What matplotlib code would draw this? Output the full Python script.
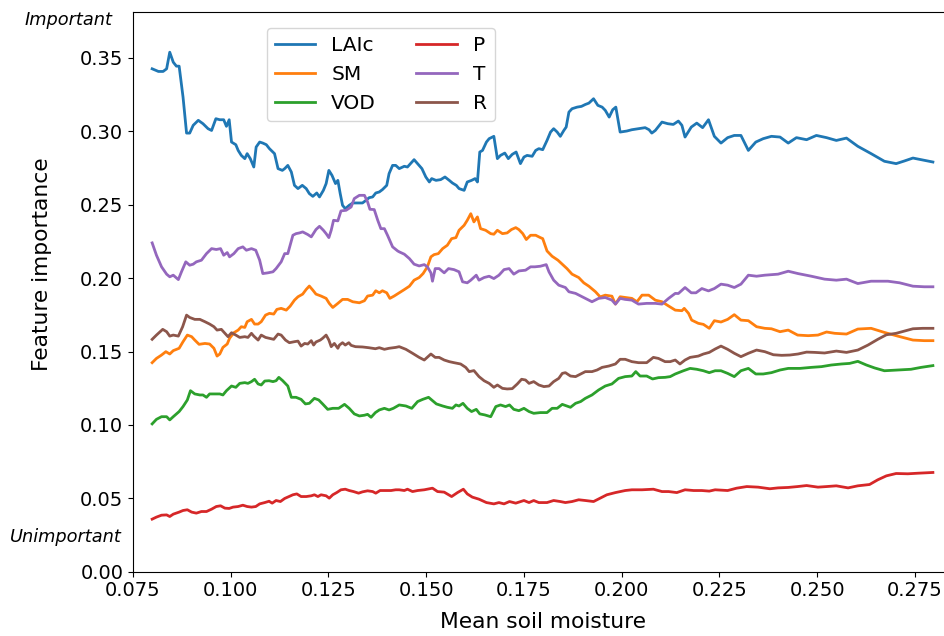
import matplotlib
matplotlib.use('Agg')
import matplotlib.pyplot as plt
from matplotlib.ticker import FormatStrFormatter

# Feature importance of each driver along mean soil moisture
laic_x = [0.0799, 0.0815, 0.0827, 0.0836, 0.0844, 0.0853, 0.0861, 0.0868, 0.0878, 0.0887, 0.0895, 0.0904,
          0.0917, 0.0929, 0.0942, 0.0951, 0.0962, 0.0972, 0.0982, 0.0989, 0.0996, 0.1002, 0.1013, 0.1019,
          0.1027, 0.1036, 0.1042, 0.1050, 0.1059, 0.1065, 0.1074, 0.1082, 0.1091, 0.1099, 0.1112, 0.1121,
          0.1132, 0.1138, 0.1146, 0.1155, 0.1163, 0.1172, 0.1183, 0.1193, 0.1201, 0.1210, 0.1220, 0.1227,
          0.1237, 0.1244, 0.1251, 0.1259, 0.1268, 0.1274, 0.1280, 0.1286, 0.1293, 0.1303, 0.1312, 0.1325,
          0.1337, 0.1346, 0.1354, 0.1363, 0.1371, 0.1380, 0.1388, 0.1399, 0.1405, 0.1414, 0.1422,
          0.1431, 0.1444, 0.1452, 0.1461, 0.1469, 0.1478, 0.1489, 0.1499, 0.1508, 0.1514, 0.1525, 0.1537,
          0.1548, 0.1559, 0.1567, 0.1577, 0.1584, 0.1597, 0.1605, 0.1616, 0.1625, 0.1631, 0.1637, 0.1644,
          0.1654, 0.1661, 0.1673, 0.1682, 0.1690, 0.1701, 0.1710, 0.1720, 0.1730, 0.1741, 0.1750, 0.1758,
          0.1771, 0.1780, 0.1788, 0.1798, 0.1809, 0.1818, 0.1826, 0.1835, 0.1843, 0.1852, 0.1858, 0.1865,
          0.1873, 0.1886, 0.1897, 0.1907, 0.1916, 0.1928, 0.1939, 0.1950, 0.1958, 0.1968, 0.1977, 0.1985,
          0.1996, 0.2013, 0.2026, 0.2043, 0.2060, 0.2070, 0.2077, 0.2086, 0.2103, 0.2118, 0.2132,
          0.2145, 0.2154, 0.2162, 0.2178, 0.2192, 0.2207, 0.2222, 0.2237, 0.2254, 0.2271, 0.2288, 0.2305,
          0.2324, 0.2343, 0.2362, 0.2383, 0.2405, 0.2426, 0.2447, 0.2473, 0.2498, 0.2524, 0.2549, 0.2575,
          0.2604, 0.2638, 0.2672, 0.2702, 0.2723, 0.2745, 0.2766, 0.2796]
laic_y = [0.3426, 0.3408, 0.3408, 0.3426, 0.3539, 0.3471, 0.3444, 0.3444, 0.3233, 0.2988, 0.2988, 0.3041,
          0.3075, 0.3052, 0.3018, 0.3006, 0.3086, 0.3079, 0.3079, 0.3034, 0.3079, 0.2927, 0.2909, 0.2870,
          0.2836, 0.2814, 0.2848, 0.2814, 0.2757, 0.2893, 0.2927, 0.2920, 0.2909, 0.2882, 0.2848, 0.2746,
          0.2734, 0.2746, 0.2768, 0.2723, 0.2632, 0.2610, 0.2632, 0.2610, 0.2576, 0.2557, 0.2580, 0.2553,
          0.2598, 0.2644, 0.2734, 0.2700, 0.2644, 0.2666, 0.2576, 0.2496, 0.2473, 0.2496, 0.2512, 0.2512,
          0.2512, 0.2530, 0.2548, 0.2553, 0.2580, 0.2587, 0.2603, 0.2632, 0.2712, 0.2768, 0.2768,
          0.2746, 0.2762, 0.2757, 0.2784, 0.2807, 0.2780, 0.2746, 0.2689, 0.2655, 0.2678, 0.2666, 0.2671,
          0.2689, 0.2666, 0.2648, 0.2632, 0.2610, 0.2598, 0.2655, 0.2666, 0.2678, 0.2655, 0.2859, 0.2870,
          0.2927, 0.2950, 0.2966, 0.2814, 0.2836, 0.2852, 0.2814, 0.2843, 0.2859, 0.2780, 0.2825, 0.2836,
          0.2830, 0.2870, 0.2882, 0.2875, 0.2938, 0.2995, 0.3018, 0.2995, 0.2966, 0.3006, 0.3029, 0.3131,
          0.3154, 0.3165, 0.3170, 0.3183, 0.3192, 0.3222, 0.3177, 0.3165, 0.3143, 0.3097, 0.3147, 0.3165,
          0.2995, 0.3002, 0.3011, 0.3018, 0.3025, 0.3011, 0.2988, 0.3006, 0.3063, 0.3052, 0.3047,
          0.3070, 0.3041, 0.2961, 0.3029, 0.3056, 0.3025, 0.3079, 0.2966, 0.2920, 0.2957, 0.2972, 0.2972,
          0.2870, 0.2927, 0.2950, 0.2966, 0.2961, 0.2920, 0.2957, 0.2943, 0.2972, 0.2957, 0.2938, 0.2954,
          0.2898, 0.2848, 0.2796, 0.2780, 0.2798, 0.2818, 0.2807, 0.2791]

sm_x = [0.0799, 0.0810, 0.0823, 0.0834, 0.0844, 0.0853, 0.0868, 0.0878, 0.0889, 0.0900, 0.0908, 0.0919,
        0.0934, 0.0946, 0.0957, 0.0965, 0.0972, 0.0980, 0.0991, 0.0997, 0.1008, 0.1019, 0.1027, 0.1036,
        0.1042, 0.1053, 0.1061, 0.1070, 0.1078, 0.1089, 0.1099, 0.1110, 0.1118, 0.1129, 0.1142, 0.1152,
        0.1163, 0.1172, 0.1184, 0.1193, 0.1201, 0.1210, 0.1218, 0.1231, 0.1244, 0.1252, 0.1261, 0.1274,
        0.1286, 0.1299, 0.1312, 0.1329, 0.1342, 0.1350, 0.1363, 0.1371, 0.1380, 0.1388, 0.1399, 0.1407,
        0.1418,
        0.1431, 0.1444, 0.1457, 0.1469, 0.1482, 0.1492, 0.1503, 0.1512, 0.1520, 0.1531, 0.1542, 0.1554,
        0.1565, 0.1576, 0.1584, 0.1597, 0.1605, 0.1614, 0.1622, 0.1631, 0.1639, 0.1652, 0.1665, 0.1673,
        0.1682, 0.1695, 0.1707, 0.1718, 0.1729, 0.1737, 0.1747, 0.1756, 0.1767, 0.1780, 0.1792, 0.1798,
        0.1809, 0.1822, 0.1837, 0.1848, 0.1860, 0.1873, 0.1890, 0.1903, 0.1916, 0.1933, 0.1945,
        0.1958, 0.1975, 0.1984, 0.1996, 0.2009, 0.2026, 0.2039, 0.2052, 0.2069, 0.2086, 0.2103, 0.2120,
        0.2137, 0.2154, 0.2160, 0.2171, 0.2179, 0.2196,
        0.2209, 0.2224, 0.2237, 0.2254, 0.2271, 0.2288, 0.2305, 0.2324, 0.2345, 0.2366, 0.2383, 0.2405,
        0.2426, 0.2450, 0.2477, 0.2502, 0.2524, 0.2545, 0.2575, 0.2604, 0.2638, 0.2672, 0.2706, 0.2745,
        0.2774, 0.2796]
sm_y = [0.1424, 0.1453, 0.1476, 0.1499, 0.1483, 0.1506, 0.1522, 0.1567, 0.1612, 0.1601, 0.1578, 0.1549,
        0.1555, 0.1551, 0.1522, 0.1469, 0.1483, 0.1528, 0.1551, 0.1590, 0.1628, 0.1646, 0.1669, 0.1664,
        0.1703, 0.1719, 0.1687, 0.1687, 0.1703, 0.1748, 0.1760, 0.1755, 0.1787, 0.1794, 0.1782, 0.1809,
        0.1850, 0.1873, 0.1891, 0.1923, 0.1946, 0.1918, 0.1891, 0.1878, 0.1862, 0.1828, 0.1800, 0.1828,
        0.1855, 0.1855, 0.1839, 0.1832, 0.1846, 0.1878, 0.1884, 0.1914, 0.1900, 0.1914, 0.1900, 0.1862,
        0.1878,
        0.1900, 0.1922, 0.1945, 0.1986, 0.2004, 0.2031, 0.2077, 0.2145, 0.2160, 0.2167, 0.2201, 0.2224,
        0.2269, 0.2276, 0.2326, 0.2360, 0.2394, 0.2439, 0.2383, 0.2417, 0.2337, 0.2326, 0.2303, 0.2299,
        0.2326, 0.2303, 0.2308, 0.2331, 0.2344, 0.2331, 0.2303, 0.2263, 0.2292, 0.2292, 0.2276, 0.2269,
        0.2185, 0.2149, 0.2122, 0.2095, 0.2065, 0.2027, 0.2004, 0.1968, 0.1945, 0.1907, 0.1872,
        0.1884, 0.1877, 0.1823, 0.1873, 0.1868, 0.1862, 0.1839, 0.1884, 0.1884, 0.1850, 0.1839, 0.1810,
        0.1782, 0.1778, 0.1794, 0.1760, 0.1714, 0.1692,
        0.1685, 0.1658, 0.1710, 0.1701, 0.1719, 0.1751, 0.1714, 0.1710, 0.1669, 0.1658, 0.1655, 0.1635,
        0.1646, 0.1612, 0.1608, 0.1612, 0.1633, 0.1624, 0.1619, 0.1653, 0.1658, 0.1630, 0.1605, 0.1578,
        0.1574, 0.1574]

vod_x = [0.0799, 0.0810, 0.0823, 0.0836, 0.0844, 0.0853, 0.0868, 0.0878, 0.0889, 0.0897, 0.0908, 0.0921,
         0.0929, 0.0938, 0.0946, 0.0959, 0.0972, 0.0980, 0.0989, 0.1002, 0.1013, 0.1023, 0.1036, 0.1044,
         0.1053, 0.1061, 0.1070, 0.1078, 0.1087, 0.1098, 0.1108, 0.1116, 0.1123, 0.1133, 0.1146, 0.1155,
         0.1167, 0.1180, 0.1191, 0.1201, 0.1214, 0.1225, 0.1235, 0.1248, 0.1261, 0.1276, 0.1291, 0.1303,
         0.1316, 0.1329, 0.1342, 0.1350, 0.1359, 0.1370, 0.1380, 0.1393, 0.1405, 0.1416,
         0.1431, 0.1448, 0.1463, 0.1478, 0.1491, 0.1506, 0.1516, 0.1526, 0.1542, 0.1554, 0.1567, 0.1576,
         0.1584, 0.1594, 0.1605, 0.1616, 0.1628, 0.1637, 0.1650, 0.1665, 0.1678, 0.1690, 0.1703, 0.1713,
         0.1724, 0.1737, 0.1750, 0.1763, 0.1775, 0.1792, 0.1809, 0.1822, 0.1835, 0.1848, 0.1860, 0.1869,
         0.1882, 0.1895, 0.1907, 0.1924, 0.1941, 0.1958, 0.1975, 0.1992, 0.2009, 0.2026, 0.2036, 0.2047,
         0.2064, 0.2079, 0.2094, 0.2111, 0.2124, 0.2137,
         0.2158, 0.2175, 0.2192, 0.2209, 0.2224, 0.2239, 0.2254, 0.2271, 0.2288, 0.2305, 0.2324, 0.2343,
         0.2362, 0.2383, 0.2405, 0.2426, 0.2456, 0.2485, 0.2511, 0.2536, 0.2562, 0.2583, 0.2604, 0.2626,
         0.2647, 0.2672, 0.2706, 0.2740, 0.2766, 0.2796]
vod_y = [0.1007, 0.1038, 0.1056, 0.1056, 0.1034, 0.1056, 0.1091, 0.1125, 0.1170, 0.1233, 0.1211, 0.1204,
         0.1204, 0.1188, 0.1211, 0.1211, 0.1211, 0.1204, 0.1233, 0.1265, 0.1256, 0.1283, 0.1288, 0.1283,
         0.1295, 0.1311, 0.1279, 0.1272, 0.1299, 0.1301, 0.1295, 0.1301, 0.1324, 0.1301, 0.1265, 0.1188,
         0.1188, 0.1174, 0.1143, 0.1147, 0.1181, 0.1170, 0.1143, 0.1106, 0.1113, 0.1113, 0.1140, 0.1113,
         0.1075, 0.1061, 0.1066, 0.1072, 0.1052, 0.1084, 0.1102, 0.1113, 0.1102, 0.1113,
         0.1136, 0.1129, 0.1113, 0.1159, 0.1174, 0.1188, 0.1165, 0.1143, 0.1129, 0.1120, 0.1113, 0.1136,
         0.1129, 0.1147, 0.1113, 0.1091, 0.1106, 0.1075, 0.1068, 0.1056, 0.1125, 0.1136, 0.1125, 0.1136,
         0.1106, 0.1097, 0.1113, 0.1091, 0.1079, 0.1084, 0.1084, 0.1113, 0.1113, 0.1140, 0.1129, 0.1120,
         0.1147, 0.1159, 0.1181, 0.1204, 0.1238, 0.1265, 0.1279, 0.1317, 0.1329, 0.1333, 0.1363, 0.1333,
         0.1333, 0.1313, 0.1322, 0.1324, 0.1329, 0.1347,
         0.1369, 0.1385, 0.1379, 0.1369, 0.1356, 0.1369, 0.1369, 0.1351, 0.1329, 0.1369, 0.1385, 0.1347,
         0.1347, 0.1356, 0.1374, 0.1385, 0.1385, 0.1392, 0.1397, 0.1408, 0.1415, 0.1419, 0.1433, 0.1408,
         0.1388, 0.1369, 0.1374, 0.1379, 0.1392, 0.1404]

p_x = [0.0799, 0.0810, 0.0823, 0.0836, 0.0844, 0.0853, 0.0868, 0.0878, 0.0889, 0.0900, 0.0912, 0.0925,
       0.0938, 0.0951, 0.0963, 0.0974, 0.0985, 0.0996, 0.1006, 0.1019, 0.1031, 0.1042, 0.1053, 0.1064,
       0.1074, 0.1087, 0.1098, 0.1106, 0.1116, 0.1127, 0.1138, 0.1149, 0.1159, 0.1169, 0.1180, 0.1193,
       0.1206, 0.1214, 0.1223, 0.1231, 0.1244, 0.1252, 0.1261, 0.1271, 0.1282, 0.1293, 0.1303, 0.1314,
       0.1327, 0.1337, 0.1350, 0.1363, 0.1371, 0.1382, 0.1393, 0.1410, 0.1422,
       0.1431, 0.1444, 0.1452, 0.1465, 0.1478, 0.1495, 0.1516, 0.1529, 0.1546, 0.1565, 0.1580, 0.1595,
       0.1605, 0.1618, 0.1635, 0.1654, 0.1673, 0.1686, 0.1699, 0.1713, 0.1729, 0.1750, 0.1763, 0.1775,
       0.1788, 0.1809, 0.1826, 0.1843, 0.1856, 0.1873, 0.1890, 0.1907, 0.1928, 0.1945, 0.1962, 0.1984,
       0.2009, 0.2026, 0.2052, 0.2081, 0.2103, 0.2120, 0.2141,
       0.2162, 0.2184, 0.2205, 0.2224, 0.2239, 0.2271, 0.2294, 0.2320, 0.2349, 0.2379, 0.2400, 0.2426,
       0.2450, 0.2473, 0.2502, 0.2524, 0.2549, 0.2579, 0.2604, 0.2634, 0.2655, 0.2677, 0.2702, 0.2732,
       0.2758, 0.2796]
p_y = [0.0358, 0.0372, 0.0385, 0.0387, 0.0376, 0.0392, 0.0406, 0.0417, 0.0422, 0.0406, 0.0399, 0.0410,
       0.0410, 0.0426, 0.0444, 0.0449, 0.0433, 0.0431, 0.0440, 0.0444, 0.0453, 0.0444, 0.0440, 0.0444,
       0.0462, 0.0471, 0.0480, 0.0467, 0.0485, 0.0478, 0.0499, 0.0512, 0.0524, 0.0530, 0.0512, 0.0512,
       0.0517, 0.0524, 0.0512, 0.0524, 0.0517, 0.0501, 0.0524, 0.0539, 0.0558, 0.0562, 0.0553, 0.0546,
       0.0535, 0.0544, 0.0551, 0.0546, 0.0535, 0.0553, 0.0553, 0.0553, 0.0558,
       0.0558, 0.0553, 0.0562, 0.0546, 0.0553, 0.0558, 0.0569, 0.0546, 0.0542, 0.0512, 0.0539, 0.0562,
       0.0530, 0.0508, 0.0494, 0.0471, 0.0462, 0.0471, 0.0462, 0.0478, 0.0467, 0.0485, 0.0471, 0.0485,
       0.0471, 0.0471, 0.0485, 0.0478, 0.0471, 0.0478, 0.0490, 0.0485, 0.0478, 0.0501, 0.0524, 0.0539,
       0.0553, 0.0558, 0.0558, 0.0562, 0.0546, 0.0546, 0.0539,
       0.0558, 0.0553, 0.0553, 0.0549, 0.0558, 0.0553, 0.0569, 0.0580, 0.0576, 0.0565, 0.0571, 0.0574,
       0.0580, 0.0587, 0.0576, 0.0580, 0.0585, 0.0571, 0.0585, 0.0594, 0.0626, 0.0653, 0.0669, 0.0667,
       0.0671, 0.0676]

t_x = [0.0799, 0.0810, 0.0823, 0.0836, 0.0844, 0.0853, 0.0866, 0.0874, 0.0885, 0.0895, 0.0904, 0.0912,
       0.0925, 0.0938, 0.0951, 0.0963, 0.0974, 0.0982, 0.0991, 0.0997, 0.1008, 0.1019, 0.1031, 0.1040,
       0.1053, 0.1064, 0.1074, 0.1082, 0.1095, 0.1108, 0.1116, 0.1129, 0.1138, 0.1146, 0.1159, 0.1167,
       0.1176, 0.1184, 0.1197, 0.1206, 0.1218, 0.1227, 0.1237, 0.1244, 0.1251, 0.1257, 0.1263, 0.1274,
       0.1282, 0.1295, 0.1308, 0.1316, 0.1329, 0.1342, 0.1350, 0.1356, 0.1367, 0.1376, 0.1384, 0.1393,
       0.1401, 0.1414, 0.1427,
       0.1431, 0.1444, 0.1457, 0.1469, 0.1482, 0.1495, 0.1503, 0.1512, 0.1516, 0.1523, 0.1533, 0.1546,
       0.1557, 0.1571, 0.1584, 0.1593, 0.1605, 0.1614, 0.1628, 0.1635, 0.1648, 0.1661, 0.1673, 0.1686,
       0.1699, 0.1712, 0.1724, 0.1737, 0.1754, 0.1767, 0.1778, 0.1792, 0.1807, 0.1814, 0.1826, 0.1839,
       0.1856,
       0.1865, 0.1882, 0.1907, 0.1924, 0.1941, 0.1958, 0.1975, 0.1984, 0.1996, 0.2009, 0.2026, 0.2043,
       0.2064, 0.2086, 0.2103, 0.2120, 0.2137,
       0.2145, 0.2162, 0.2178, 0.2190, 0.2205, 0.2222, 0.2237, 0.2254, 0.2271, 0.2288, 0.2305, 0.2324,
       0.2345, 0.2366, 0.2400, 0.2426, 0.2451, 0.2485, 0.2519, 0.2549, 0.2575, 0.2604, 0.2638, 0.2681,
       0.2711, 0.2745, 0.2774, 0.2796]
t_y = [0.2240, 0.2156, 0.2077, 0.2027, 0.2009, 0.2020, 0.1990, 0.2043, 0.2111, 0.2088, 0.2095, 0.2111,
       0.2122, 0.2167, 0.2201, 0.2195, 0.2201, 0.2156, 0.2174, 0.2145, 0.2167, 0.2201, 0.2213, 0.2190,
       0.2201, 0.2190, 0.2122, 0.2031, 0.2036, 0.2043, 0.2065, 0.2111, 0.2167, 0.2167, 0.2292, 0.2303,
       0.2308, 0.2315, 0.2297, 0.2281, 0.2331, 0.2353, 0.2326, 0.2303, 0.2276, 0.2326, 0.2394, 0.2390,
       0.2458, 0.2462, 0.2485, 0.2542, 0.2564, 0.2564, 0.2519, 0.2469, 0.2467, 0.2394, 0.2337, 0.2337,
       0.2292, 0.2213, 0.2185,
       0.2179, 0.2163, 0.2133, 0.2095, 0.2083, 0.2092, 0.2077, 0.2036, 0.1979, 0.2065, 0.2065, 0.2036,
       0.2065, 0.2058, 0.2043, 0.1975, 0.1968, 0.1986, 0.2020, 0.1986, 0.2004, 0.2013, 0.1997, 0.2020,
       0.2058, 0.2065, 0.2027, 0.2049, 0.2054, 0.2077, 0.2077, 0.2081, 0.2092, 0.2043, 0.1986, 0.1952,
       0.1936,
       0.1907, 0.1896, 0.1862, 0.1839, 0.1862, 0.1868, 0.1850, 0.1823, 0.1862, 0.1855, 0.1850, 0.1823,
       0.1828, 0.1828, 0.1823, 0.1862, 0.1896,
       0.1895, 0.1936, 0.1900, 0.1900, 0.1929, 0.1913, 0.1929, 0.1959, 0.1952, 0.1936, 0.1959, 0.2020,
       0.2013, 0.2020, 0.2027, 0.2047, 0.2031, 0.2013, 0.1993, 0.1986, 0.1993, 0.1963, 0.1979, 0.1979,
       0.1968, 0.1945, 0.1941, 0.1941]

r_x = [0.0799, 0.0810, 0.0826, 0.0836, 0.0844, 0.0853, 0.0866, 0.0877, 0.0887, 0.0895, 0.0908, 0.0921,
       0.0934, 0.0946, 0.0957, 0.0965, 0.0976, 0.0985, 0.0993, 0.1002, 0.1013, 0.1023, 0.1036, 0.1044,
       0.1053, 0.1059, 0.1070, 0.1078, 0.1089, 0.1099, 0.1110, 0.1121, 0.1129, 0.1140, 0.1150, 0.1163,
       0.1172, 0.1180, 0.1189, 0.1197, 0.1206, 0.1212, 0.1218, 0.1229, 0.1235, 0.1244, 0.1251, 0.1257,
       0.1265, 0.1274, 0.1278, 0.1286, 0.1293, 0.1302, 0.1308, 0.1319, 0.1337, 0.1353, 0.1370, 0.1380,
       0.1393, 0.1405, 0.1422,
       0.1431, 0.1448, 0.1465, 0.1482, 0.1495, 0.1506, 0.1512, 0.1523, 0.1533, 0.1546, 0.1559, 0.1571,
       0.1588, 0.1601, 0.1610, 0.1622, 0.1635, 0.1648, 0.1661, 0.1673, 0.1682, 0.1695, 0.1707, 0.1720,
       0.1733, 0.1744, 0.1754, 0.1763, 0.1775, 0.1788, 0.1801, 0.1814, 0.1826, 0.1839, 0.1848, 0.1856,
       0.1869, 0.1882, 0.1895, 0.1907, 0.1924, 0.1937, 0.1950, 0.1967, 0.1984, 0.1996, 0.2009, 0.2026,
       0.2043, 0.2064, 0.2081, 0.2094, 0.2111, 0.2124, 0.2137, 0.2149, 0.2162, 0.2175, 0.2196,
       0.2209, 0.2224, 0.2239, 0.2254, 0.2271, 0.2288, 0.2305, 0.2324, 0.2345, 0.2366, 0.2388, 0.2409,
       0.2430, 0.2451, 0.2473, 0.2494, 0.2519, 0.2549, 0.2575, 0.2604, 0.2630, 0.2655, 0.2677, 0.2702,
       0.2723, 0.2745, 0.2770, 0.2796]
r_y = [0.1583, 0.1612, 0.1651, 0.1635, 0.1605, 0.1612, 0.1605, 0.1669, 0.1748, 0.1732, 0.1719, 0.1719,
       0.1703, 0.1687, 0.1669, 0.1646, 0.1651, 0.1624, 0.1601, 0.1628, 0.1612, 0.1596, 0.1601, 0.1596,
       0.1624, 0.1605, 0.1578, 0.1612, 0.1596, 0.1590, 0.1583, 0.1619, 0.1612, 0.1578, 0.1560, 0.1567,
       0.1571, 0.1537, 0.1555, 0.1551, 0.1574, 0.1544, 0.1565, 0.1578, 0.1590, 0.1612, 0.1578, 0.1533,
       0.1555, 0.1522, 0.1544, 0.1560, 0.1544, 0.1560, 0.1542, 0.1533, 0.1531, 0.1526, 0.1519, 0.1526,
       0.1515, 0.1522, 0.1528,
       0.1533, 0.1515, 0.1488, 0.1460, 0.1442, 0.1469, 0.1483, 0.1460, 0.1460, 0.1442, 0.1431, 0.1424,
       0.1415, 0.1392, 0.1363, 0.1370, 0.1329, 0.1301, 0.1283, 0.1256, 0.1272, 0.1249, 0.1245, 0.1247,
       0.1279, 0.1311, 0.1306, 0.1283, 0.1295, 0.1272, 0.1261, 0.1265, 0.1295, 0.1317, 0.1351, 0.1356,
       0.1333, 0.1329, 0.1347, 0.1363, 0.1363, 0.1374, 0.1392, 0.1401, 0.1415, 0.1447, 0.1447, 0.1431,
       0.1424, 0.1424, 0.1460, 0.1453, 0.1431, 0.1431, 0.1442, 0.1415, 0.1442, 0.1460, 0.1469,
       0.1483, 0.1494, 0.1517, 0.1537, 0.1515, 0.1488, 0.1465, 0.1488, 0.1510, 0.1499, 0.1478, 0.1474,
       0.1476, 0.1483, 0.1496, 0.1494, 0.1490, 0.1503, 0.1494, 0.1510, 0.1544, 0.1583, 0.1614, 0.1624,
       0.1639, 0.1655, 0.1658, 0.1658]

x_ticks = [0.075, 0.100, 0.125, 0.150, 0.175, 0.200, 0.225, 0.250, 0.275]
y_ticks = [0.00, 0.05, 0.10, 0.15, 0.20, 0.25, 0.30, 0.35]

fig = plt.figure(figsize=(9.45, 6.36), dpi=100)
# axes run past the right edge of the figure, as in the cropped original
ax = fig.add_axes([133 / 945, 64.3 / 636, 821 / 945, 560 / 636])

ax.plot(laic_x, laic_y, color='tab:blue', lw=2, label='LAIc')
ax.plot(sm_x, sm_y, color='tab:orange', lw=2, label='SM')
ax.plot(vod_x, vod_y, color='tab:green', lw=2, label='VOD')
ax.plot(p_x, p_y, color='tab:red', lw=2, label='P')
ax.plot(t_x, t_y, color='tab:purple', lw=2, label='T')
ax.plot(r_x, r_y, color='tab:brown', lw=2, label='R')

ax.set_xlim(0.075, 0.285)
ax.set_ylim(0, 0.3815)
ax.set_xticks(x_ticks)
ax.set_yticks(y_ticks)
ax.xaxis.set_major_formatter(FormatStrFormatter('%.3f'))
ax.yaxis.set_major_formatter(FormatStrFormatter('%.2f'))
ax.tick_params(labelsize=14)

ax.set_xlabel('Mean soil moisture', fontsize=15.7)
ax.set_ylabel('Feature importance', fontsize=15.7)
ax.xaxis.set_label_coords(0.5, -0.072)
ax.yaxis.set_label_coords(-0.099, 0.55)

ax.legend(ncol=2, fontsize=14.5, loc='upper left', bbox_to_anchor=(0.163, 0.971),
          borderaxespad=0)

fig.text(69 / 945, 1 - 20 / 636, 'Important', fontsize=12.8, style='italic',
         ha='center', va='center')
fig.text(66 / 945, 1 - 537 / 636, 'Unimportant', fontsize=12.8, style='italic',
         ha='center', va='center')

plt.savefig('out.png', dpi=100)
plt.close()
